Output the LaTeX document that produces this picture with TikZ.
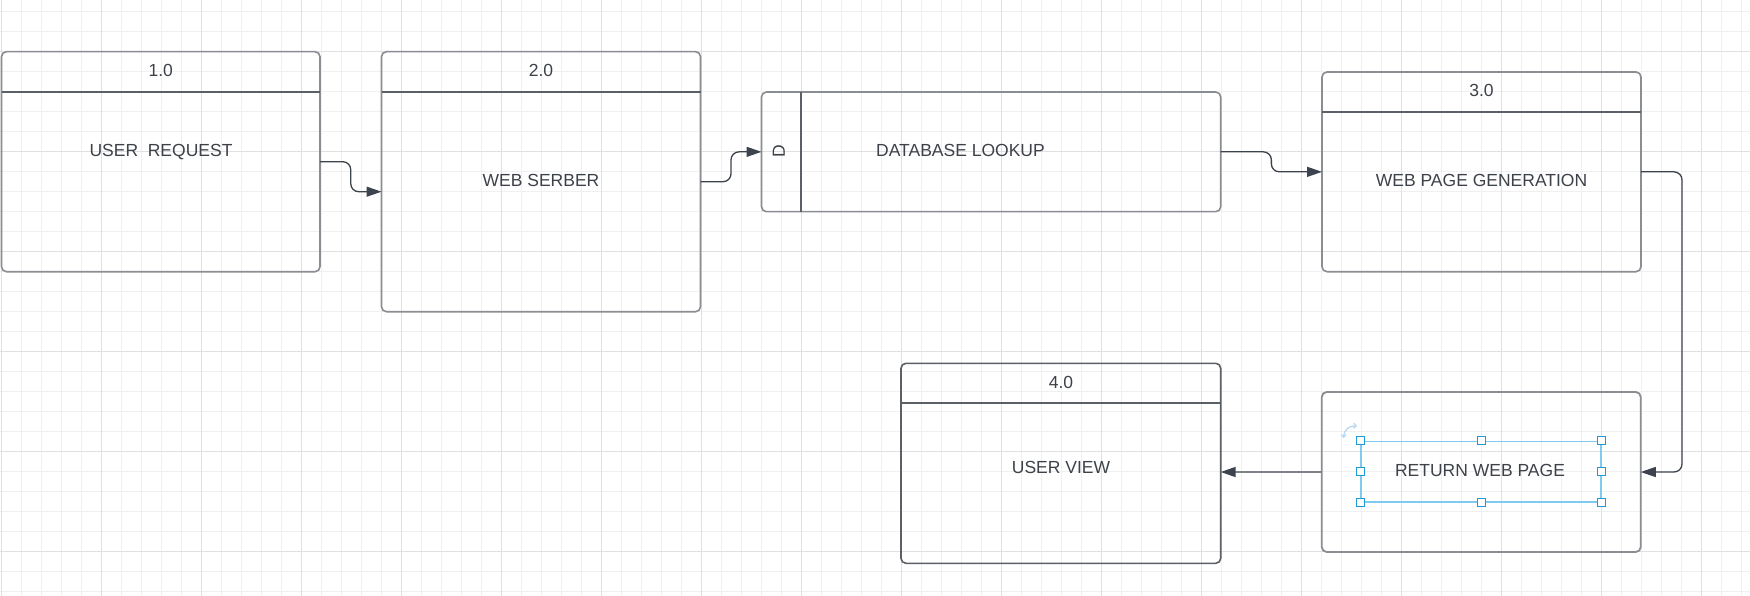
\documentclass[tikz,border=0pt]{standalone}
\usepackage{fontspec}
\setmainfont{Liberation Sans}
\usetikzlibrary{arrows.meta,calc}
\definecolor{gridminor}{HTML}{F0F0F0}
\definecolor{gridmajor}{HTML}{E0E0E0}
\definecolor{boxgray}{HTML}{8A8D92}
\definecolor{boxdark}{HTML}{5B5F66}
\definecolor{arrowc}{HTML}{3C434D}
\definecolor{arrowgray}{HTML}{7E8187}
\definecolor{txt}{HTML}{3D4149}
\definecolor{selblue}{HTML}{7FCBEF}
\definecolor{handleblue}{HTML}{1E9BD7}
\definecolor{rotblue}{HTML}{B5D5F2}
\begin{document}
\begin{tikzpicture}[x=1pt,y=-1pt,
  proc/.style={draw=boxgray, line width=1.6pt, rounded corners=5pt, inner sep=0pt, outer sep=0pt},
  hdr/.style={draw=boxdark, line width=1.8pt},
  lbl/.style={text=txt, font=\fontsize{17.5}{20}\selectfont, inner sep=0pt, text height=12.7pt, text depth=0pt},
  flow/.style={draw=arrowc, line width=1.3pt, rounded corners=8pt, -{Triangle[length=15pt,width=10pt]}},
  handle/.style={draw=handleblue, fill=white, line width=1pt, minimum size=8pt, inner sep=0pt},
]
\useasboundingbox (0,0) rectangle (1750,596);
\fill[white] (0,0) rectangle (1750,596);
% grid
\foreach \x in {1.7,21.7,...,1745} \draw[gridminor, line width=1pt] (\x,0) -- (\x,596);
\foreach \y in {11.7,31.7,...,596} \draw[gridminor, line width=1pt] (0,\y) -- (1750,\y);
\foreach \x in {1.7,101.7,...,1745} \draw[gridmajor, line width=1pt] (\x,0) -- (\x,596);
\foreach \y in {51.7,151.7,...,596} \draw[gridmajor, line width=1pt] (0,\y) -- (1750,\y);

% 1.0
\node[proc, minimum width=318.5pt, minimum height=220pt] (b1) at (160.75,161.7) {};
\draw[hdr] ([yshift=-40pt]b1.north west) -- ([yshift=-40pt]b1.north east);
\node[lbl] (b1h) at (160.75,70) {1.0};
\node[lbl] (b1t) at (161,149.7) {USER\ \ REQUEST};

% 2.0
\node[proc, minimum width=319pt, minimum height=260pt] (b2) at (541,181.7) {};
\draw[hdr] ([yshift=-40pt]b2.north west) -- ([yshift=-40pt]b2.north east);
\node[lbl] (b2h) at (541,70) {2.0};
\node[lbl] (b2t) at (541,180) {WEB SERBER};

% data store
\node[proc, minimum width=459.2pt, minimum height=119.7pt] (db) at (991.1,151.85) {};
\draw[hdr] ([xshift=39.5pt]db.north west) -- ([xshift=39.5pt]db.south west);
\node[lbl, rotate=90] (dbd) at (778.5,151) {D};
\node[lbl] (dbt) at (960.5,150.3) {DATABASE LOOKUP};

% 3.0
\node[proc, minimum width=319pt, minimum height=199.7pt] (b3) at (1481.5,171.85) {};
\draw[hdr] ([yshift=-40pt]b3.north west) -- ([yshift=-40pt]b3.north east);
\node[lbl] (b3h) at (1481.5,90.5) {3.0};
\node[lbl] (b3t) at (1481.5,180) {WEB PAGE GENERATION};

% 4.0
\node[proc, draw=boxdark, minimum width=319.7pt, minimum height=200pt] (b4) at (1060.85,463.3) {};
\draw[hdr] ([yshift=-40pt]b4.north west) -- ([yshift=-40pt]b4.north east);
\node[lbl] (b4h) at (1061,382) {4.0};
\node[lbl] (b4t) at (1061,467.5) {USER VIEW};

% return web page
\node[proc, line width=1.8pt, minimum width=319pt, minimum height=160pt] (b5) at (1481.25,472) {};
\node[draw=selblue, line width=1.5pt, minimum width=240pt, minimum height=60.3pt, inner sep=0pt] (sel) at (1481,471.85) {};
\foreach \a in {north west,north,north east,west,east,south west,south,south east}
  \node[handle] (h-\a) at (sel.\a) {};
\node[lbl] (b5t) at (1480,469.7) {RETURN WEB PAGE};
\draw[rotblue, line width=1.2pt, {Straight Barb[length=2.5pt,width=5pt]}-{Straight Barb[length=2.5pt,width=5pt]}]
  (1343.5,438) .. controls (1343.5,430.5) and (1349,425.5) .. (1357,426);

% connectors
\coordinate (e2) at ([yshift=-10pt]b2.west);
\coordinate (m1) at ($(b1.east)!0.5!(e2)$);
\coordinate (m2) at ($(b2.east)!0.5!(db.west)$);
\coordinate (m3) at ($(db.east)!0.5!(b3.west)$);
\draw[flow] (b1.east) -- (m1 |- b1.east) |- (e2);
\draw[flow] (b2.east) -- (m2 |- b2.east) |- (db.west);
\draw[flow] (db.east) -- (m3 |- db.east) |- (b3.west);
\draw[flow] (b3.east) -- ++(41,0) |- (b5.east);
\draw[draw=arrowgray, line width=1.8pt, -{Triangle[length=15pt,width=10pt,color=arrowc]}] (b5.west) -- (b5.west -| b4.east);
\end{tikzpicture}
\end{document}
